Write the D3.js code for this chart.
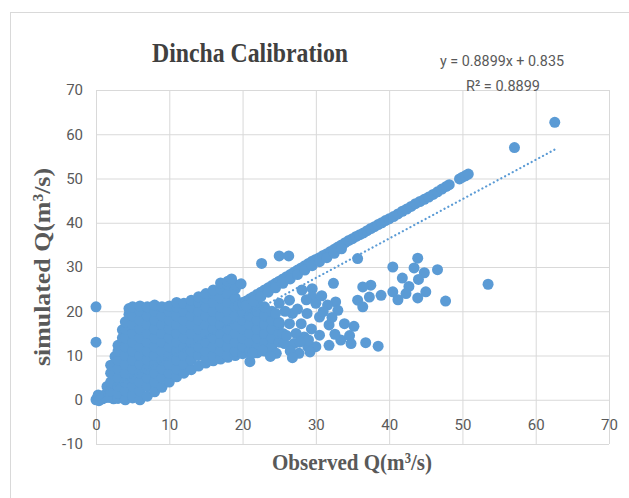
<!DOCTYPE html>
<html>
<head>
<meta charset="utf-8">
<script src="https://cdn.jsdelivr.net/npm/d3@7"></script>
<style>
body { margin: 0; background: #fff; }
svg text { font-family: Roboto, "Liberation Sans", sans-serif; }
</style>
</head>
<body>
<div id="chart"></div>
<script>
var xTicks = [0, 10, 20, 30, 40, 50, 60, 70];
var yTicks = [-10, 0, 10, 20, 30, 40, 50, 60, 70];

// trendline
var trendSlope = 0.8899;
var trendIntercept = 0.835;
var trendR2 = 0.8899;

// [observed, simulated]
var nearZero = [[0,0],[0.2,0.5],[0.4,-0.2],[0.6,0.6],[0.9,0.2],[1.1,1],[1.4,0.5],[1.6,1.7],[1.5,3],[0.3,1.1],[2.4,0.2],[3.4,0.6]];
var axisOutliers = [[0,21],[0,13]];

// main cloud, one column of simulated values per observed value
var cloudColumns = [
    [2, [0.5,2,4,6,7.8]],
    [2.6, [9.8]],
    [3, [0.3,1.5,3,5,7,9,11,12.3]],
    [3.6, [14,15.8]],
    [4, [0,2,4,6,8,10,12,14,16,17.6]],
    [4.5, [19.3,20.6]],
    [5, [0.4,1,3,5,7,9,11,13,15,17,19,21]],
    [6, [0,2,4,6,8,10,12,14,16,18,20,21.2]],
    [7, [0.8,3,5,7,9,11,13,15,17,19,21]],
    [8, [1.8,4,6,8,10,12,14,16,18,20,21.4]],
    [9, [2.8,5,7,9,11,13,15,17,19,21]],
    [10, [4,6,8,10,12,14,16,18,20,21.2]],
    [11, [5.2,7,9,11,13,15,17,19,21,22]],
    [12, [6,8,10,12,14,16,18,20,21.8]],
    [13, [6.8,9,11,13,15,17,19,21,22.5]],
    [14, [7.6,10,12,14,16,18,20,22,23.3]],
    [15, [8.3,9.5,11,13,15,17,19,21,23,24]],
    [16, [8.8,10,12,14,16,18,20,22,24,24.8]],
    [17, [9.2,11,13,15,17,19,21,23,25,26.4]],
    [18, [9.6,10,12,14,16,18,20,22,24,26,26.8]],
    [19, [10,11,13,15,17,19,21,23,25,26]],
    [20, [10.4,12,14,16,18,20,22]],
    [21, [8.6,10.5,11,13,15,17,19,21]],
    [22, [10.6,12,14,16,18,20,22]],
    [23, [11,13,15,17,19,21]],
    [24, [10.5,12,14,16,18,20]],
    [25, [13,15,17]]
];

// dense band close to the 1:1 line
var band = [
    [19.5,21.3],[20,21.8],[20.5,22.3],[21,22.8],[21.5,23.3],[22,23.8],[22.5,24.3],[23,24.8],
    [23.5,25.3],[24,25.8],[24.5,26.3],[25,26.8],[25.5,27.3],[26,27.8],[26.5,28.3],[27,28.8],
    [27.5,29.3],[28,29.8],[28.5,30.3],[29,30.8],[29.5,31.3],[30,31.7],[30.5,32.1],[31,32.6],
    [31.5,33],[32,33.5],[32.5,34],[33,34.5],[33.5,35],[34,35.5],[34.5,36],[35,36.4],
    [35.5,36.9],[36,37.3],[36.5,37.7],[37,38.2],[37.5,38.7],[38,39.1],[38.5,39.6],[39,40],
    [39.5,40.5],[40,40.9],[40.6,41.4],[41.2,42],[41.8,42.6],[42.4,43.1],[43,43.7],[43.6,44.3],
    [44.2,44.8],[44.8,45.3],[45.4,45.8],[46,46.4],[46.6,47],[47.2,47.6],[47.8,48.2],[48.2,48.6],
    [49.6,49.9],[50,50.3],[50.4,50.6],[50.8,51],
    [20.5,21.3],[21.5,22.3],[22.5,23.3],[23.5,24.3],[24.5,25.3],[25.5,26.3],[26.5,27.3],
    [27.5,28.3],[28.5,29.3],[29.5,30.3],[30.5,31.2],[31.5,32.1],[32.5,33.1],[33.5,34.1]
];

var scatter = [
    [22.6,30.8],[25,32.5],[26.3,32.5],[18.5,27.3],[19.8,26.2],
    [35.7,31.9],[32.4,26.3],[28.1,24.8],[29.5,25.1],[40.5,30],[43.9,32],[43.4,29.8],
    [44.8,28.7],[41.8,27.5],[46.6,29.4],[44,27.2],[42.7,25.6],[45,24.4],[43.9,23],
    [47.7,22.3],[53.5,26.1],[41.2,22.6],[40.5,24.4],[42.3,24],[38.9,23.6],[37.5,25.9],
    [36.4,25.5],[35.7,22.5],[36.4,21],[37.3,23.2],[38.5,12.1],[36.8,12.9],[34.8,12.7],
    [33.4,13.5],[35.2,16.6],[33.9,17.2],[32.7,22.1],[33,20.2],[31.6,21.4],[30.5,18.7],
    [31.8,16.9],[30.5,14.6],[31.8,12.3],[30,12],[28.9,12],[28.4,14.2],[28,17.2],
    [26.8,19.5],[26.4,17.2],[27.3,15],[27,12.7],[25.7,12.7],[24.6,10.5],[27.7,10.5],
    [21.4,10.5],[22.7,11.2],[25,21.8],[26.4,22.5],[29.5,23.2],[30,21.8],
    [25.5,15],[25,17.5],[26,14.5],[24.5,19.5],[25.8,20],[27.5,20.5],[28.8,19.5],
    [29.4,16],[29,13.5],[27.8,13],[26.5,11],[29.2,10.8],[32.6,14.8],[31,19.9],
    [32.2,18.6],[34.6,14.5],[30.8,23.5],[28.7,22.6],[23.8,9.8],[26.8,9.5]
];

var topPoints = [[57.1,57],[62.6,62.7]];

var width = 629;
var height = 498;
var blue = "#5b9bd5";
var grid = "#d9d9d9";
var labelColor = "#595959";

var points = [].concat(
    nearZero,
    axisOutliers,
    cloudColumns.flatMap(([o, sims]) => sims.map(s => [o, s])),
    band,
    scatter,
    topPoints
);

var x = d3.scaleLinear().domain([0, 70]).range([96, 609]);
var y = d3.scaleLinear().domain([-10, 70]).range([444, 90]);

var svg = d3.select("#chart").append("svg")
    .attr("width", width)
    .attr("height", height);

// chart frame
svg.append("rect")
    .attr("x", 10.5).attr("y", 12.5)
    .attr("width", 700).attr("height", 600)
    .attr("fill", "none")
    .attr("stroke", grid);

// gridlines
var gx = svg.append("g")
    .attr("transform", `translate(0,${y(-10)})`)
    .call(d3.axisBottom(x).tickValues(xTicks).tickSize(-(y(-10) - y(70))).tickFormat(""));
var gy = svg.append("g")
    .attr("transform", `translate(${x(0)},0)`)
    .call(d3.axisLeft(y).tickValues(yTicks).tickSize(-(x(70) - x(0))).tickFormat(""));
[gx, gy].forEach(g => {
    g.select(".domain").remove();
    g.selectAll("line").attr("stroke", grid);
});

// tick labels (plain hyphen for negatives, as in the original)
var lx = svg.append("g")
    .attr("transform", `translate(0,${y(0)})`)
    .call(d3.axisBottom(x).tickValues(xTicks).tickSize(0).tickPadding(20).tickFormat(d => String(d)));
var ly = svg.append("g")
    .attr("transform", `translate(${x(0)},0)`)
    .call(d3.axisLeft(y).tickValues(yTicks).tickSize(0).tickPadding(13).tickFormat(d => String(d)));
[lx, ly].forEach(g => {
    g.select(".domain").remove();
    g.selectAll("text")
        .attr("fill", labelColor)
        .style("font-size", "15px")
        .style("font-family", "Roboto, 'Liberation Sans', sans-serif");
});

// points
svg.append("g")
    .selectAll("circle")
    .data(points)
    .join("circle")
    .attr("cx", d => x(d[0]))
    .attr("cy", d => y(d[1]))
    .attr("r", 5.5)
    .attr("fill", blue);

// linear trendline
var trendX = d3.extent(points, d => d[0]);
svg.append("line")
    .attr("x1", x(trendX[0]))
    .attr("y1", y(trendSlope * trendX[0] + trendIntercept))
    .attr("x2", x(trendX[1]))
    .attr("y2", y(trendSlope * trendX[1] + trendIntercept))
    .attr("stroke", blue)
    .attr("stroke-width", 2.2)
    .attr("stroke-linecap", "round")
    .attr("stroke-dasharray", "0.1,4.2");

// title
svg.append("text")
    .attr("x", 250).attr("y", 62)
    .attr("text-anchor", "middle")
    .attr("textLength", 196)
    .attr("lengthAdjust", "spacingAndGlyphs")
    .style("font", "bold 28px 'Liberation Serif', 'Times New Roman', serif")
    .attr("fill", "#404040")
    .text("Dincha Calibration");

// trendline label
svg.append("text")
    .attr("x", 502).attr("y", 66)
    .attr("text-anchor", "middle")
    .attr("textLength", 124)
    .attr("lengthAdjust", "spacingAndGlyphs")
    .style("font-size", "15px")
    .attr("fill", labelColor)
    .text(`y = ${trendSlope}x + ${trendIntercept}`);
svg.append("text")
    .attr("x", 503).attr("y", 91)
    .attr("text-anchor", "middle")
    .attr("textLength", 74)
    .attr("lengthAdjust", "spacingAndGlyphs")
    .style("font-size", "15px")
    .attr("fill", labelColor)
    .text(`R² = ${trendR2}`);

// axis titles
svg.append("text")
    .attr("x", 352).attr("y", 470)
    .attr("text-anchor", "middle")
    .attr("textLength", 160)
    .attr("lengthAdjust", "spacingAndGlyphs")
    .style("font", "bold 24px 'Liberation Serif', 'Times New Roman', serif")
    .attr("fill", labelColor)
    .text("Observed Q(m³/s)");
svg.append("text")
    .attr("transform", "translate(50,267) rotate(-90)")
    .attr("text-anchor", "middle")
    .attr("textLength", 198)
    .attr("lengthAdjust", "spacingAndGlyphs")
    .style("font", "bold 24px 'Liberation Serif', 'Times New Roman', serif")
    .attr("fill", labelColor)
    .text("simulated Q(m³/s)");
</script>
</body>
</html>
